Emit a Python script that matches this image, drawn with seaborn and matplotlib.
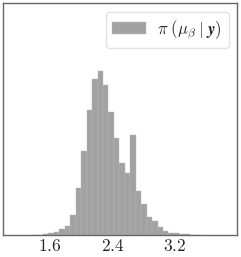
import numpy as np
import pandas as pd
import matplotlib
matplotlib.use("Agg")
import matplotlib.pyplot as plt
import seaborn as sns

bin_centers = [1.405, 1.475, 1.545, 1.615, 1.685, 1.755, 1.825, 1.895, 1.965, 2.035,
               2.105, 2.175, 2.245, 2.315, 2.385, 2.455, 2.525, 2.595, 2.665, 2.735,
               2.805, 2.875, 2.945, 3.015, 3.085, 3.155, 3.225, 3.295, 3.365, 3.435,
               3.505]
density = [0.003, 0.005, 0.011, 0.018, 0.029, 0.060, 0.095, 0.212, 0.495, 0.894,
           1.326, 1.652, 1.740, 1.588, 1.308, 1.026, 0.767, 0.655, 1.061, 0.467,
           0.329, 0.194, 0.152, 0.088, 0.042, 0.024, 0.018, 0.011, 0.007, 0.004,
           0.002]
bin_width = 0.07
xticks = [1.6, 2.4, 3.2]
xtick_labels = [r"$1.6$", r"$2.4$", r"$3.2$"]
label = r"$\pi\;(\mu_\beta\;|\;\boldsymbol{y})$"

sns.set_style("white")
plt.rcParams["font.family"] = ["DejaVu Serif"]
plt.rcParams["mathtext.fontset"] = "cm"

df = pd.DataFrame({"mu": bin_centers, "w": density})
edges = [c - bin_width / 2 for c in bin_centers] + [bin_centers[-1] + bin_width / 2]

fig = plt.figure(figsize=(2.41, 2.57), dpi=100)
ax = fig.add_axes([3.3 / 241, 22 / 257, 233.7 / 241, 231.7 / 257])
sns.histplot(data=df, x="mu", weights="w", bins=edges, color="#a2a2a2", alpha=1.0,
             edgecolor="#b8b8b8", linewidth=0.3, label=label, ax=ax)

ax.set_xlim(1.0, 4.0)
ax.set_ylim(0, 2.458)
ax.set_xticks(xticks, labels=xtick_labels)
ax.set_yticks([])
ax.set_xlabel("")
ax.set_ylabel("")
ax.tick_params(axis="x", direction="in", length=2.5, width=0.8, color="#555555",
               labelsize=12.5, pad=2)
for s in ax.spines.values():
    s.set_color("#666666")
    s.set_linewidth(1.0)

ax.legend(loc="upper right", fontsize=12, handlelength=2.0, handletextpad=0.7,
          borderaxespad=0.5, frameon=True, fancybox=True, edgecolor="#dddddd")

fig.savefig("out.png", dpi=100)
